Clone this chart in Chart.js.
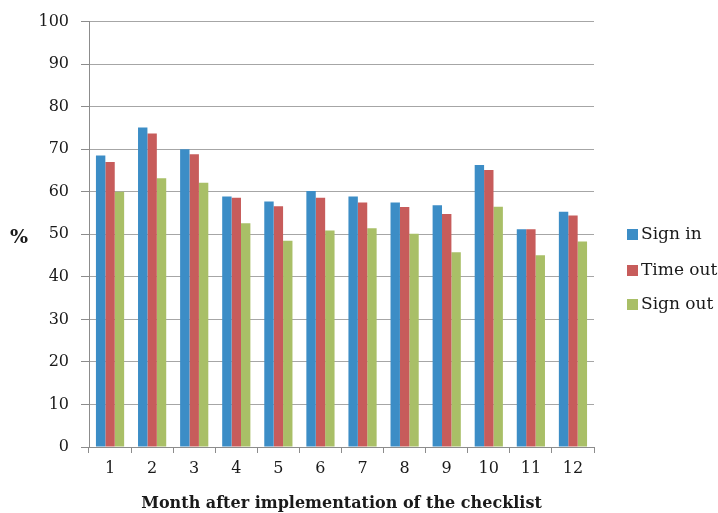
<!DOCTYPE html>
<html>
<head>
<meta charset="utf-8">
<script src="https://cdn.jsdelivr.net/npm/chart.js@4.4.1/dist/chart.umd.min.js"></script>
<style>
  html, body { margin: 0; padding: 0; background: #fff; }
  #wrap { width: 718px; height: 513px; }
</style>
</head>
<body>
<div id="wrap"><canvas id="chart"></canvas></div>
<script>
const months = ["1", "2", "3", "4", "5", "6", "7", "8", "9", "10", "11", "12"];
const signIn  = [68.5, 75.1, 70.0, 58.9, 57.7, 60.2, 58.9, 57.5, 56.8, 66.3, 51.2, 55.3];
const timeOut = [67.0, 73.7, 68.8, 58.6, 56.6, 58.6, 57.5, 56.4, 54.8, 65.1, 51.2, 54.4];
const signOut = [60.0, 63.2, 62.1, 52.6, 48.5, 50.9, 51.4, 50.1, 45.8, 56.5, 45.1, 48.3];
const yTicks = [0, 10, 20, 30, 40, 50, 60, 70, 80, 90, 100];

const serif = "'DejaVu Serif', 'Liberation Serif', serif";

// legend on the right and the "%" label beside the y axis
const sideText = {
  id: "sideText",
  afterDraw(chart) {
    const ctx = chart.ctx;
    ctx.save();
    ctx.font = "17px " + serif;
    ctx.textBaseline = "middle";
    const rows = [234, 270, 304];
    chart.data.datasets.forEach((ds, i) => {
      ctx.fillStyle = ds.backgroundColor;
      ctx.fillRect(627, rows[i] - 5, 11, 11);
      ctx.fillStyle = "#1a1a1a";
      ctx.textAlign = "left";
      ctx.fillText(ds.label, 641, rows[i] + 1);
    });
    ctx.font = "bold 19px " + serif;
    ctx.textAlign = "center";
    ctx.fillText("%", 19, 238);
    ctx.restore();
  },
};

new Chart(document.getElementById("chart"), {
  type: "bar",
  data: {
    labels: months,
    datasets: [
      { label: "Sign in", data: signIn, backgroundColor: "#3c8dc6" },
      { label: "Time out", data: timeOut, backgroundColor: "#c75c5b" },
      { label: "Sign out", data: signOut, backgroundColor: "#a9bf67" },
    ],
  },
  options: {
    responsive: true,
    maintainAspectRatio: false,
    animation: false,
    layout: { padding: { top: 20, right: 124, left: 0, bottom: 0 } },
    datasets: { bar: { categoryPercentage: 0.67, barPercentage: 1.0 } },
    plugins: { legend: { display: false }, tooltip: { enabled: false } },
    scales: {
      x: {
        grid: { drawOnChartArea: false, drawTicks: true, tickLength: 6, color: "#8c8c8c" },
        border: { color: "#8c8c8c" },
        ticks: { color: "#1a1a1a", padding: 6, font: { family: serif, size: 16 } },
        title: {
          display: true,
          text: "Month after implementation of the checklist",
          color: "#1a1a1a",
          font: { family: serif, size: 16, weight: "bold" },
          padding: { top: 2, bottom: 0 },
        },
        afterFit(scale) { scale.height = 66; },
      },
      y: {
        min: 0,
        max: 100,
        afterBuildTicks(scale) { scale.ticks = yTicks.map(v => ({ value: v })); },
        grid: { color: "#a6a6a6", tickLength: 8, tickColor: "#8c8c8c" },
        border: { color: "#8c8c8c" },
        ticks: { color: "#1a1a1a", padding: 12, font: { family: serif, size: 16 } },
        afterFit(scale) { scale.width = 89; },
      },
    },
  },
  plugins: [sideText],
});
</script>
</body>
</html>
